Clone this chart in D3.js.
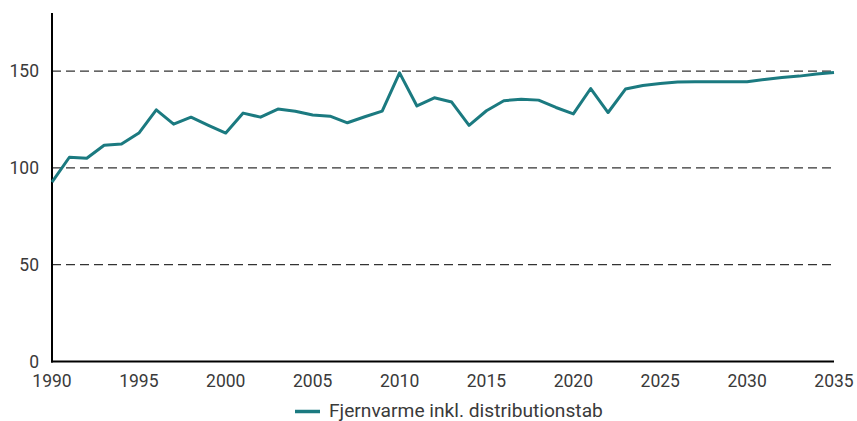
<!DOCTYPE html>
<html><head><meta charset="utf-8">
<script src="https://cdn.jsdelivr.net/npm/d3@7"></script>
<style>html,body{margin:0;padding:0;background:#fff;}svg{display:block;font-family:Roboto,"Noto Sans",sans-serif;}</style>
</head><body>
<svg id="c" width="857" height="421"></svg>
<script>
const years = d3.range(1990, 2036);
const values = [92.6,105.5,105,111.7,112.3,118,130,122.6,126.2,122,118,128.3,126.2,130.4,129.3,127.3,126.7,123.3,126.4,129.3,149.1,132,136.2,134,122,129.5,134.7,135.5,135,131.2,127.9,141,128.6,140.7,142.6,143.6,144.3,144.5,144.5,144.5,144.5,145.7,146.7,147.4,148.5,149.3];
const yTicks = [0,50,100,150];
const xTicks = [1990,1995,2000,2005,2010,2015,2020,2025,2030,2035];
const seriesName = "Fjernvarme inkl. distributionstab";

const svg = d3.select("#c");
const x = d3.scaleLinear().domain([1990,2035]).range([52,834]);
const y = d3.scaleLinear().domain([0,180]).range([361.5,13]);

// gridlines
svg.append("g").selectAll("line").data(yTicks.filter(d=>d>0)).join("line")
  .attr("x1",52).attr("x2",834).attr("y1",d=>y(d)).attr("y2",d=>y(d))
  .attr("stroke","#333").attr("stroke-width",1.2).attr("stroke-dasharray","9,5");

// y labels
svg.append("g").selectAll("text").data(yTicks).join("text")
  .attr("x",39).attr("y",d=>y(d)).attr("dy","0.36em").attr("text-anchor","end")
  .attr("font-size",17.5).attr("fill","#3a3a3a").text(d=>d);

// x labels
svg.append("g").selectAll("text").data(xTicks).join("text")
  .attr("x",d=>x(d)).attr("y",387).attr("text-anchor","middle")
  .attr("font-size",17.5).attr("fill","#3a3a3a").text(d=>d);

// axes
svg.append("line").attr("x1",52).attr("x2",52).attr("y1",13).attr("y2",362.5).attr("stroke","#000").attr("stroke-width",2);
svg.append("line").attr("x1",51).attr("x2",834).attr("y1",361.5).attr("y2",361.5).attr("stroke","#000").attr("stroke-width",2);

// line
const line = d3.line().x((d,i)=>x(years[i])).y(d=>y(d));
svg.append("path").datum(values).attr("d",line).attr("fill","none")
  .attr("stroke","#1b7a80").attr("stroke-width",3).attr("stroke-linejoin","round");

// legend
svg.append("line").attr("x1",295).attr("x2",320).attr("y1",411.5).attr("y2",411.5).attr("stroke","#1b7a80").attr("stroke-width",3.5);
svg.append("text").attr("x",329).attr("y",417).attr("font-size",19.2).attr("fill","#3a3a3a").text(seriesName);
</script>
</body></html>
